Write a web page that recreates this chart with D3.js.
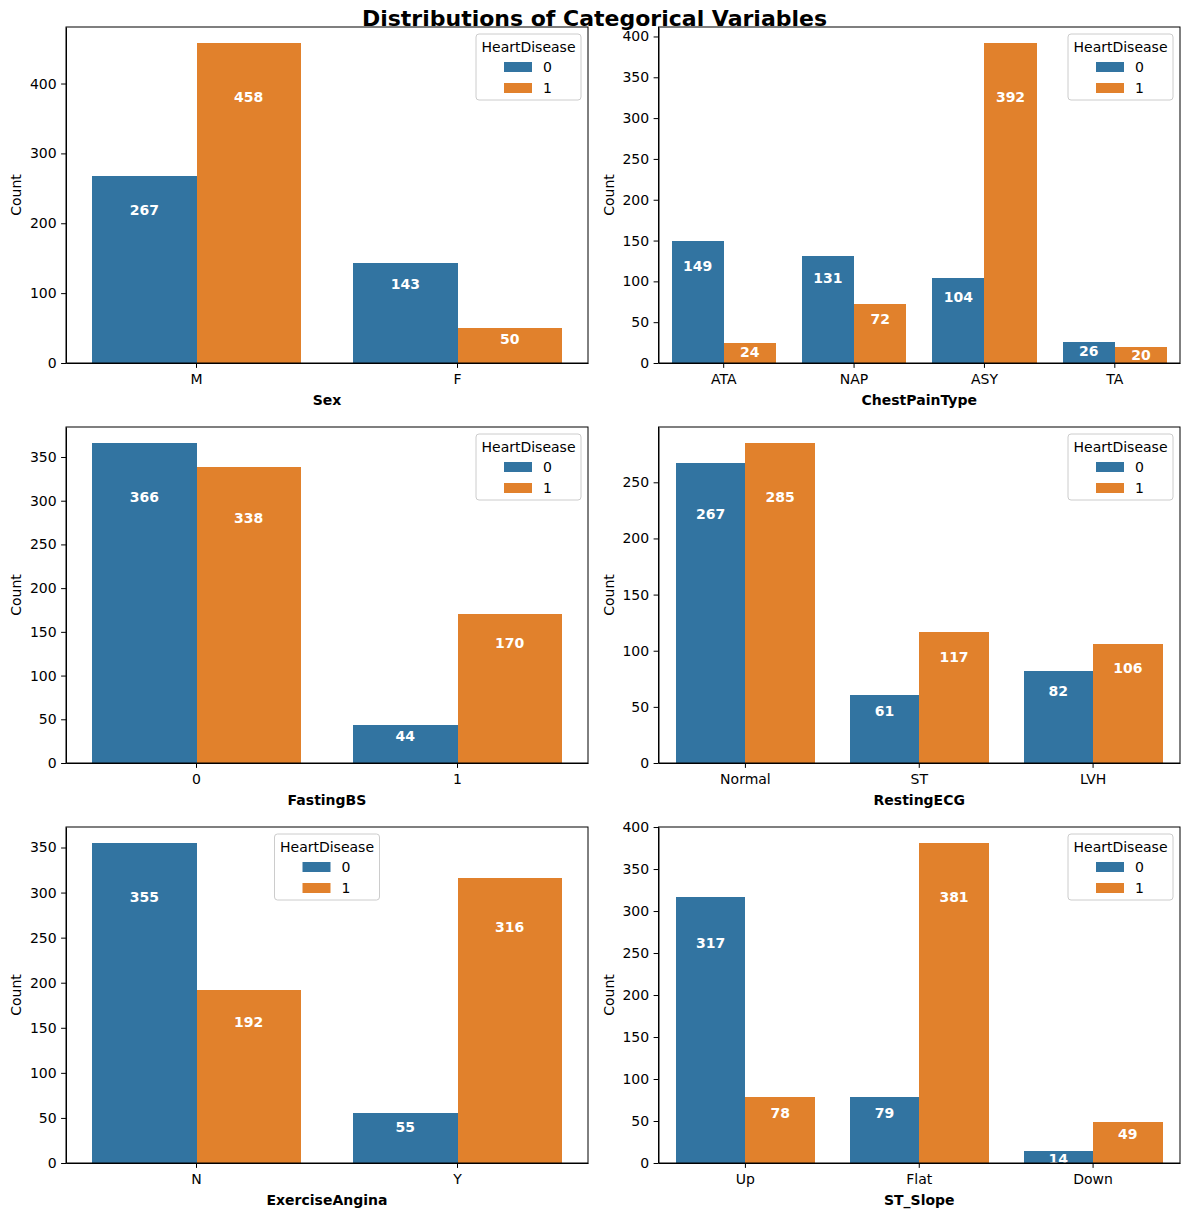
<!DOCTYPE html>
<html lang="en">
<head>
<meta charset="UTF-8">
<title>Distributions of Categorical Variables</title>
<script src="https://d3js.org/d3.v7.min.js"></script>
<style>
  body { margin: 0; background: #fff; font-family: "DejaVu Sans", sans-serif; }
  svg text { font-family: "DejaVu Sans", sans-serif; }
  .tick text { font-size: 14px; fill: #000; }
  .tick line { stroke: #000; }
  .domain { stroke: #000; }
  rect.bar { shape-rendering: crispEdges; }
</style>
</head>
<body>
<svg id="chart" width="1189" height="1216"></svg>
<script>
// data
const hueLevels = ["0", "1"];
const sexCats = ["M", "F"];
const sexCounts = [[267, 458], [143, 50]];
const chestCats = ["ATA", "NAP", "ASY", "TA"];
const chestCounts = [[149, 24], [131, 72], [104, 392], [26, 20]];
const fbsCats = ["0", "1"];
const fbsCounts = [[366, 338], [44, 170]];
const ecgCats = ["Normal", "ST", "LVH"];
const ecgCounts = [[267, 285], [61, 117], [82, 106]];
const anginaCats = ["N", "Y"];
const anginaCounts = [[355, 192], [55, 316]];
const slopeCats = ["Up", "Flat", "Down"];
const slopeCounts = [[317, 78], [79, 381], [14, 49]];

const panels = [
  {name: "Sex", cats: sexCats, counts: sexCounts, step: 100, legend: "right"},
  {name: "ChestPainType", cats: chestCats, counts: chestCounts, step: 50, legend: "right"},
  {name: "FastingBS", cats: fbsCats, counts: fbsCounts, step: 50, legend: "right"},
  {name: "RestingECG", cats: ecgCats, counts: ecgCounts, step: 50, legend: "right"},
  {name: "ExerciseAngina", cats: anginaCats, counts: anginaCounts, step: 50, legend: "center"},
  {name: "ST_Slope", cats: slopeCats, counts: slopeCounts, step: 50, legend: "right"}
];

const colors = ["#3274a1", "#e1812c"];
const colX = [[66, 588], [658.5, 1180]];
const rowY = [[27, 363], [427, 763], [827, 1163]];

const svg = d3.select("#chart");

svg.append("text")
  .attr("x", 594.5).attr("y", 26)
  .attr("text-anchor", "middle")
  .style("font-size", "22px").style("font-weight", "bold")
  .text("Distributions of Categorical Variables");

panels.forEach((p, i) => {
  const [x0, x1] = colX[i % 2];
  const [y0, y1] = rowY[Math.floor(i / 2)];
  const w = x1 - x0, h = y1 - y0;
  const g = svg.append("g").attr("transform", `translate(${x0},${y0})`);

  const maxV = d3.max(p.counts.flat());
  const x = d3.scaleBand().domain(p.cats).range([0, w]).paddingInner(0.2).paddingOuter(0.1);
  const xh = d3.scaleBand().domain(hueLevels).range([0, x.bandwidth()]);
  const y = d3.scaleLinear().domain([0, maxV * 1.05]).range([h, 0]);

  const rows = [];
  p.cats.forEach((c, ci) => hueLevels.forEach((hv, hi) => rows.push({c, hv, hi, v: p.counts[ci][hi]})));

  g.selectAll("rect.bar").data(rows).enter().append("rect")
    .attr("class", "bar")
    .attr("x", d => x(d.c) + xh(d.hv))
    .attr("y", d => y(d.v))
    .attr("width", xh.bandwidth())
    .attr("height", d => h - y(d.v))
    .attr("fill", d => colors[d.hi]);

  g.selectAll("text.val").data(rows).enter().append("text")
    .attr("class", "val")
    .attr("x", d => x(d.c) + xh(d.hv) + xh.bandwidth() / 2)
    .attr("y", d => y(d.v * 0.85) + 11)
    .attr("text-anchor", "middle")
    .style("font-size", "14px").style("font-weight", "bold").attr("fill", "#fff")
    .text(d => d.v);

  const ticks = d3.range(0, maxV * 1.05 + 0.001, p.step);
  g.append("g").attr("transform", `translate(0,${h})`)
    .call(d3.axisBottom(x).tickSize(4.9).tickSizeOuter(0).tickPadding(6));
  g.append("g")
    .call(d3.axisLeft(y).tickValues(ticks).tickFormat(d3.format("d")).tickSize(4.9).tickSizeOuter(0).tickPadding(4.5));

  // frame
  g.append("rect").attr("width", w).attr("height", h)
    .attr("fill", "none").attr("stroke", "#000").attr("stroke-width", 1);

  g.append("text")
    .attr("x", w / 2).attr("y", h + 42)
    .attr("text-anchor", "middle")
    .style("font-size", "14px").style("font-weight", "bold")
    .text(p.name);
  g.append("text")
    .attr("transform", `translate(${-45},${h / 2}) rotate(-90)`)
    .attr("text-anchor", "middle")
    .style("font-size", "14px")
    .text("Count");

  // legend
  const lw = 105, lh = 66;
  const lx = p.legend === "right" ? w - 7 - lw : w / 2 - lw / 2;
  const lg = g.append("g").attr("transform", `translate(${lx},7)`);
  lg.append("rect").attr("width", lw).attr("height", lh).attr("rx", 3)
    .attr("fill", "#fff").attr("fill-opacity", 0.8).attr("stroke", "#ccc");
  lg.append("text").attr("x", lw / 2).attr("y", 18).attr("text-anchor", "middle")
    .style("font-size", "14px").text("HeartDisease");
  hueLevels.forEach((hv, hi) => {
    lg.append("rect").attr("x", 28).attr("y", 28 + hi * 21).attr("width", 28).attr("height", 10)
      .attr("fill", colors[hi]);
    lg.append("text").attr("x", 67).attr("y", 38 + hi * 21)
      .style("font-size", "14px").text(hv);
  });
});
</script>
</body>
</html>
